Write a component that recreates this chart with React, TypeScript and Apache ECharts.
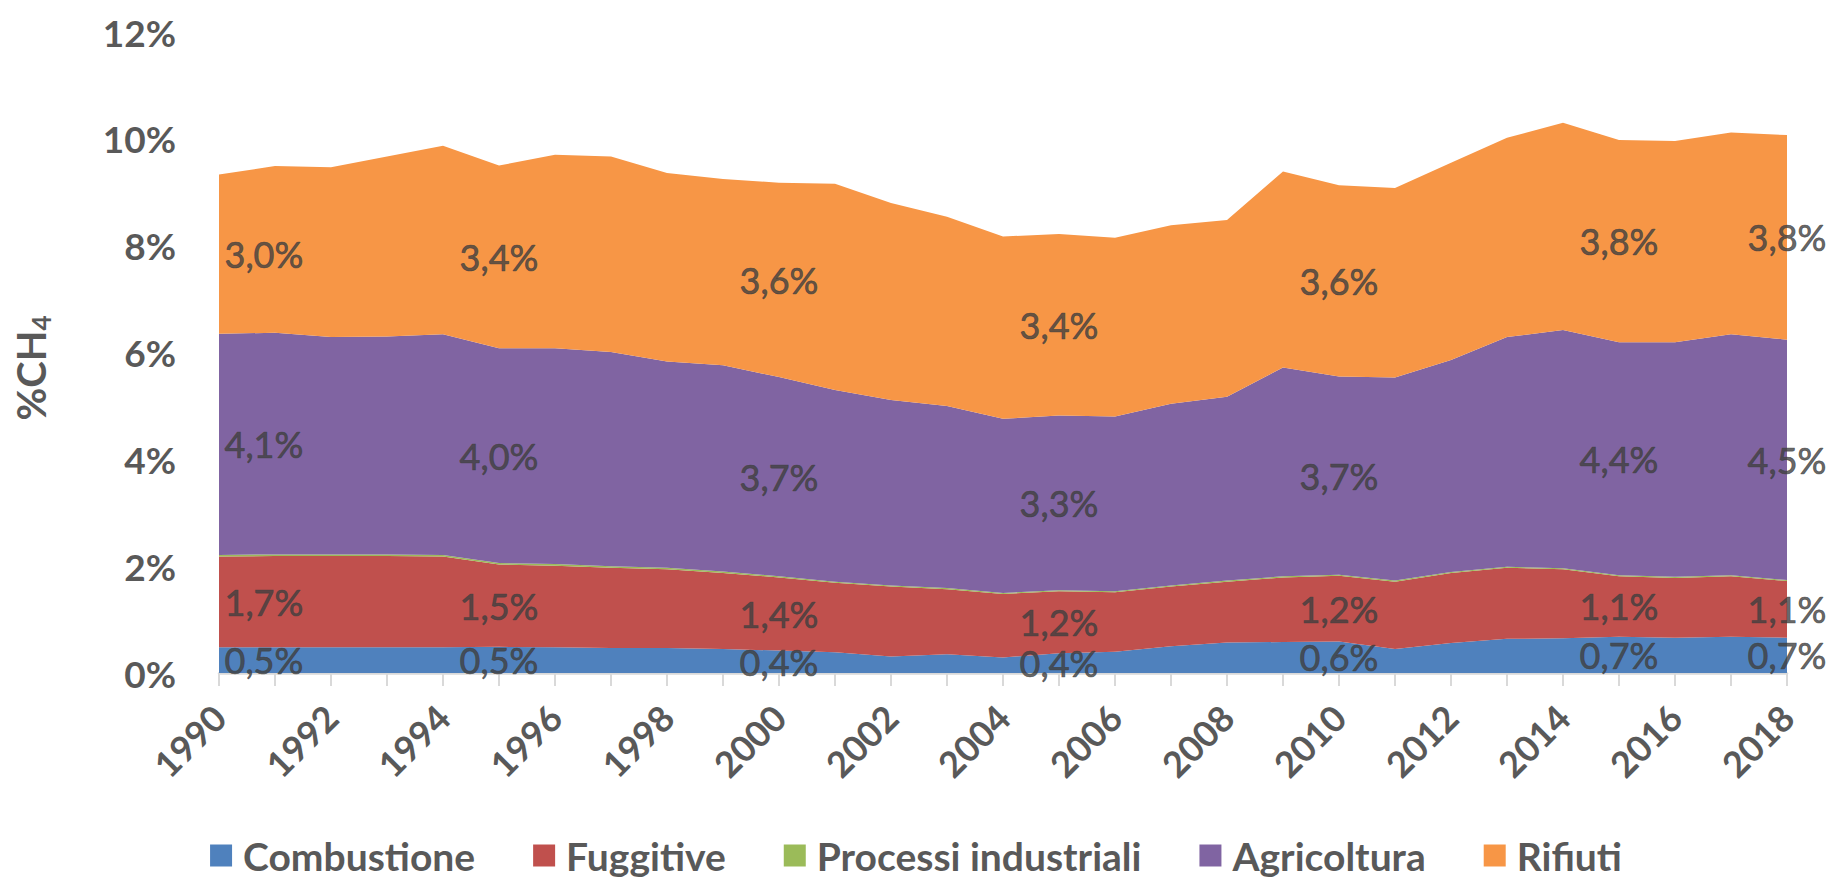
import React, { useEffect, useRef } from 'react';
import * as echarts from 'echarts';

const years = ['1990','1991','1992','1993','1994','1995','1996','1997','1998','1999','2000','2001','2002','2003','2004','2005','2006','2007','2008','2009','2010','2011','2012','2013','2014','2015','2016','2017','2018'];

const combustione = [0.48,0.48,0.48,0.48,0.48,0.49,0.48,0.47,0.47,0.45,0.42,0.39,0.31,0.35,0.29,0.37,0.40,0.50,0.57,0.58,0.59,0.45,0.56,0.64,0.65,0.68,0.66,0.68,0.66];
const fuggitive = [1.70,1.71,1.71,1.71,1.70,1.54,1.53,1.50,1.47,1.42,1.37,1.30,1.31,1.22,1.19,1.16,1.11,1.12,1.14,1.21,1.23,1.26,1.31,1.33,1.29,1.13,1.12,1.13,1.06];
const processi = [0.03,0.03,0.03,0.03,0.03,0.03,0.03,0.03,0.03,0.03,0.02,0.02,0.02,0.02,0.02,0.02,0.02,0.02,0.02,0.02,0.02,0.02,0.02,0.02,0.02,0.02,0.02,0.02,0.02];
const agricoltura = [4.14,4.15,4.07,4.08,4.13,4.02,4.04,4.01,3.86,3.86,3.73,3.59,3.47,3.41,3.26,3.27,3.27,3.40,3.44,3.91,3.71,3.80,3.97,4.30,4.46,4.36,4.39,4.51,4.50];
const rifiuti = [2.98,3.12,3.18,3.37,3.53,3.42,3.62,3.66,3.53,3.49,3.64,3.86,3.69,3.54,3.41,3.40,3.35,3.34,3.31,3.67,3.58,3.55,3.69,3.73,3.88,3.79,3.77,3.78,3.83];

const labelYears = ['1990','1995','2000','2005','2010','2015','2018'];

const seriesNames = ['Combustione','Fuggitive','Processi industriali','Agricoltura','Rifiuti'];
const seriesData = [combustione, fuggitive, processi, agricoltura, rifiuti];
const seriesColors = ['#4F81BD','#C0504D','#9BBB59','#8064A2','#F79646'];
const labelledSeries = [0, 1, 3, 4];

const FONT = 'Lato';
const fmt = (v: number) => v.toFixed(1).replace('.', ',') + '%';

export default function App() {
  const ref = useRef<HTMLDivElement>(null);
  useEffect(() => {
    document.body.style.margin = '0';
    if (!ref.current) return;
    const chart = echarts.init(ref.current, undefined, { renderer: 'svg' });

    const areaSeries: any[] = seriesNames.map((name, i) => ({
      name,
      type: 'line',
      stack: 'total',
      data: seriesData[i],
      symbol: 'none',
      lineStyle: { width: 0 },
      areaStyle: { color: seriesColors[i], opacity: 1 },
      itemStyle: { color: seriesColors[i] },
      z: 2,
    }));

    const labelSeries: any[] = labelledSeries.map((si) => {
      const data = labelYears.map((yr) => {
        const idx = years.indexOf(yr);
        let base = 0;
        for (let k = 0; k < si; k++) base += seriesData[k][idx];
        const v = seriesData[si][idx];
        const item: any = { value: [yr, base + v / 2, v] };
        if (idx === 0) {
          item.label = { position: 'right', distance: 5 };
        }
        return item;
      });
      return {
        name: 'lbl-' + seriesNames[si],
        type: 'scatter',
        data,
        symbolSize: 1,
        clip: false,
        itemStyle: { color: 'rgba(0,0,0,0)' },
        label: {
          show: true,
          position: 'inside',
          formatter: (p: any) => fmt(p.value[2]),
          color: '#3F3F3F',
          fontFamily: FONT,
          fontSize: 36,
          fontWeight: 'normal',
          textBorderColor: '#3F3F3F',
          textBorderWidth: 0.7,
        },
        silent: true,
        z: 5,
      };
    });

    chart.setOption({
      animation: false,
      grid: { left: 219, right: 45, top: 32, bottom: 209, containLabel: false },
      legend: {
        data: seriesNames,
        top: 836,
        left: 'center',
        padding: 0,
        itemWidth: 22,
        itemHeight: 22,
        itemGap: 58,
        icon: 'rect',
        textStyle: {
          fontFamily: FONT,
          fontSize: 39,
          lineHeight: 36,
          fontWeight: 'bold',
          color: '#595959',
          padding: [0, 0, 0, 6],
        },
      },
      xAxis: {
        type: 'category',
        data: years,
        boundaryGap: false,
        axisLine: { show: true, lineStyle: { color: '#D9D9D9', width: 2.5 } },
        axisTick: { show: true, interval: 0, length: 13, lineStyle: { color: '#D9D9D9', width: 2 } },
        axisLabel: {
          interval: 1,
          rotate: 45,
          margin: 38,
          fontFamily: FONT,
          fontSize: 36,
          fontWeight: 'bold',
          color: '#595959',
        },
        splitLine: { show: false },
      },
      yAxis: {
        type: 'value',
        min: 0,
        max: 12,
        interval: 2,
        axisLine: { show: false },
        axisTick: { show: false },
        splitLine: { show: false },
        axisLabel: {
          formatter: (v: number) => v + '%',
          margin: 43,
          fontFamily: FONT,
          fontSize: 37,
          fontWeight: 'bold',
          color: '#595959',
        },
      },
      graphic: [
        {
          type: 'text',
          x: 31,
          y: 368,
          rotation: Math.PI / 2,
          style: {
            text: '{a|%CH}{b|4}',
            align: 'center',
            verticalAlign: 'middle',
            rich: {
              a: { fontFamily: FONT, fontSize: 40, fontWeight: 'bold', fill: '#595959' },
              b: { fontFamily: FONT, fontSize: 26, fontWeight: 'bold', fill: '#595959', padding: [20, 0, 0, 0] },
            },
          },
        },
      ],
      series: [...areaSeries, ...labelSeries],
    });

    return () => chart.dispose();
  }, []);

  return <div ref={ref} style={{ width: 1832, height: 882 }} />;
}
